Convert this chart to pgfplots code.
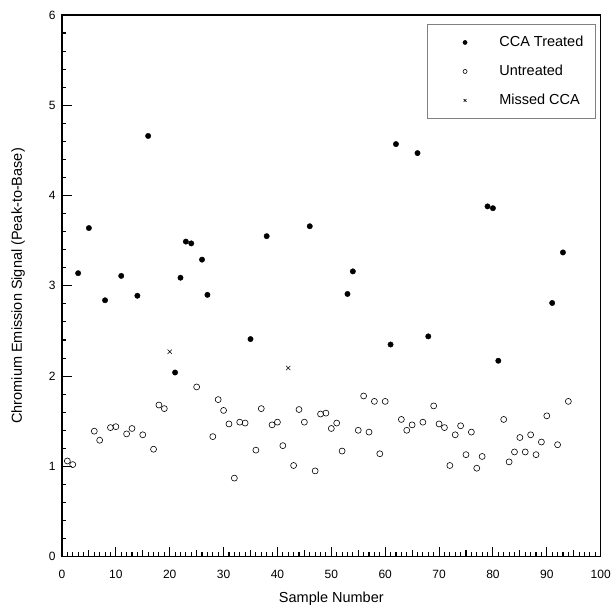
\documentclass[border=0pt]{standalone}
\usepackage{fontspec}
\setmainfont{Liberation Sans}
\usepackage{pgfplots}
\usepackage{pgfplotstable}
\pgfplotsset{compat=1.18}

% CCA treated samples (filled)
\pgfplotstableread{
x y
3 3.14
5 3.64
8 2.84
11 3.11
14 2.89
16 4.66
21 2.04
22 3.09
23 3.49
24 3.47
26 3.29
27 2.90
35 2.41
38 3.55
46 3.66
53 2.91
54 3.16
61 2.35
62 4.57
66 4.47
68 2.44
79 3.88
80 3.86
81 2.17
91 2.81
93 3.37
}\treated

% untreated samples (open)
\pgfplotstableread{
x y
1 1.06
2 1.02
6 1.39
7 1.29
9 1.43
10 1.44
12 1.36
13 1.42
15 1.35
17 1.19
18 1.68
19 1.64
25 1.88
28 1.33
29 1.74
30 1.62
31 1.47
32 0.87
33 1.49
34 1.48
36 1.18
37 1.64
39 1.46
40 1.49
41 1.23
43 1.01
44 1.63
45 1.49
47 0.95
48 1.58
49 1.59
50 1.42
51 1.48
52 1.17
55 1.40
56 1.78
57 1.38
58 1.72
59 1.14
60 1.72
63 1.52
64 1.40
65 1.46
67 1.49
69 1.67
70 1.47
71 1.43
72 1.01
73 1.35
74 1.45
75 1.13
76 1.38
77 0.98
78 1.11
82 1.52
83 1.05
84 1.16
85 1.32
86 1.16
87 1.35
88 1.13
89 1.27
90 1.56
92 1.24
94 1.72
}\untreated

% missed CCA
\pgfplotstableread{
x y
20 2.27
42 2.09
}\missed

\begin{document}
\begin{tikzpicture}
\begin{axis}[
    name=ax,
    scale only axis,
    width=539pt, height=542pt,
    xmin=0, xmax=100, ymin=0, ymax=6,
    xtick={0,10,...,100}, minor x tick num=9,
    extra x ticks={5,15,...,95}, extra x tick labels={},
    extra x tick style={major tick length=7pt},
    ytick={0,1,...,6}, minor y tick num=4,
    tick align=inside, xtick pos=bottom, ytick pos=left,
    major tick length=10pt, minor tick length=4.5pt,
    axis line style={line width=1.3pt},
    every tick/.style={black, line width=1.1pt},
    ticklabel style={font=\fontsize{12}{14}\selectfont},
    xticklabel style={yshift=-10pt},
    yticklabel style={xshift=-3pt},
    every axis x label/.style={at={(axis description cs:0.5,-0.0775)}, anchor=center,
        font=\fontsize{14.5}{17}\selectfont},
    every axis y label/.style={at={(axis description cs:-0.0816,0.5)}, rotate=90, anchor=center,
        font=\fontsize{14.5}{17}\selectfont},
    /pgf/number format/assume math mode=true,
    xlabel={Sample Number},
    ylabel={Chromium Emission Signal (Peak-to-Base)},
    legend cell align=left,
    legend style={at={(0.9907,0.983)}, anchor=north east,
        draw=gray, line width=0.6pt,
        font=\fontsize{14.5}{17}\selectfont,
        row sep=13pt, inner xsep=10pt, inner ysep=10pt},
    legend image code/.code={
        \path (0pt,0pt) (59pt,0pt);
        \draw[#1, mark size=2pt] plot coordinates {(27pt,0pt)};
    },
]
\addplot[only marks, mark=*, mark size=2.7pt, black] table {\treated};
\addlegendentry{CCA Treated}
\addplot[only marks, mark=o, mark size=3pt, black, mark options={line width=0.6pt}] table {\untreated};
\addlegendentry{Untreated}
\addplot[only marks, mark=x, mark size=3pt, black, mark options={line width=0.6pt}] table {\missed};
\addlegendentry{Missed CCA}
\end{axis}
\path ([shift={(-62pt,-49pt)}]ax.south west) rectangle ([shift={(13pt,15pt)}]ax.north east);
\end{tikzpicture}
\end{document}
